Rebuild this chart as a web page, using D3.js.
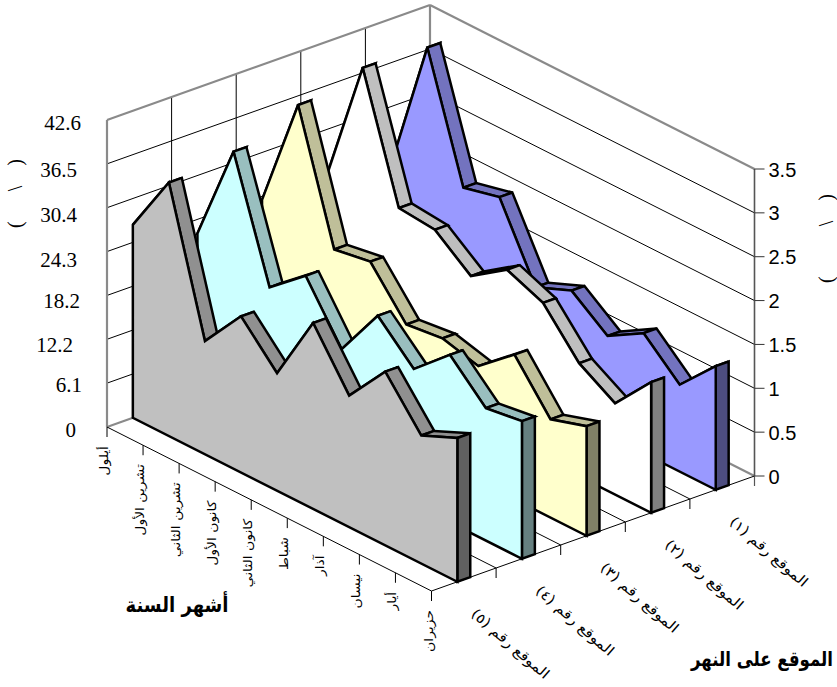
<!DOCTYPE html>
<html lang="ar">
<head>
<meta charset="utf-8">
<title>الموقع على النهر</title>
<script src="https://cdn.jsdelivr.net/npm/d3@7/dist/d3.min.js"></script>
<style>
  html, body { margin: 0; padding: 0; background: #fff; }
  svg { display: block; }
</style>
</head>
<body>
<svg id="chart" width="837" height="687"></svg>
<script>
// Monthly readings at five river sites, drawn as a 3-D area chart.
const months = ["أيلول", "تشرين الأول", "تشرين الثاني", "كانون الأول", "كانون الثاني", "شباط", "آذار", "نيسان", "أيار", "حزيران"];
const siteNames = ["الموقع رقم (١)", "الموقع رقم (٢)", "الموقع رقم (٣)", "الموقع رقم (٤)", "الموقع رقم (٥)"];

const site1 = [1.84, 3.38, 1.99, 2.09, 1.27, 1.44, 1.13, 1.37, 0.99, 1.41];
const site2 = [1.97, 3.41, 2.02, 1.98, 1.66, 1.94, 1.77, 1.29, 1.04, 1.49];
const site3 = [1.96, 3.25, 1.81, 1.88, 1.37, 1.42, 1.31, 1.65, 1.12, 1.25];
const site4 = [1.84, 2.98, 1.64, 1.98, 1.35, 1.94, 1.54, 1.91, 1.51, 1.57];
const site5 = [2.20, 2.89, 1.29, 1.78, 1.34, 2.12, 1.50, 1.98, 1.46, 1.64];

const rightTicks = [0, 0.5, 1, 1.5, 2, 2.5, 3, 3.5];
const leftTicks = [0, 6.1, 12.2, 18.2, 24.3, 30.4, 36.5, 42.6];

const siteSeries = [site1, site2, site3, site4, site5];
const siteFills = ["#9999FF", "#FFFFFF", "#FFFFCC", "#CCFFFF", "#C0C0C0"];

// Oblique projection: unit month, depth and height vectors in screen pixels.
const origin = [107, 427];
const monthVec = [324.5, 164];
const depthVec = [323, -115];
const heightPx = 307;

const monthPos = d3.scalePoint().domain(d3.range(months.length)).range([0, 1]);
const depthPos = d3.scaleLinear().domain([0, siteSeries.length]).range([0, 1]);
const valuePos = d3.scaleLinear().domain([0, 3.5]).range([0, 1]);
const leftPos = d3.scaleLinear().domain([0, 42.6]).range([0, 1]);

function project(u, w, h) {
  return [
    origin[0] + monthVec[0] * u + depthVec[0] * w,
    origin[1] + monthVec[1] * u + depthVec[1] * w - heightPx * h
  ];
}

const svg = d3.select("#chart");
const line = d3.line();
const closed = pts => line(pts) + "Z";

function seg(parent, a, b, cls) {
  parent.append("line")
    .attr("x1", a[0]).attr("y1", a[1]).attr("x2", b[0]).attr("y2", b[1])
    .attr("stroke", cls.stroke).attr("stroke-width", cls.width);
}

const thinGrid = { stroke: "#000", width: 1 };
const wallEdge = { stroke: "#8a8a8a", width: 2.2 };

// Back walls and floor.
const walls = svg.append("g");
rightTicks.slice(1, -1).forEach(v => {
  const h = valuePos(v);
  seg(walls, project(0, 0, h), project(0, 1, h), thinGrid);
  seg(walls, project(0, 1, h), project(1, 1, h), thinGrid);
});
d3.range(1, siteSeries.length).forEach(i => {
  const w = 1 - depthPos(i);
  seg(walls, project(0, w, 0), project(0, w, 1), thinGrid);
});
d3.range(1, siteSeries.length).forEach(i => {
  const w = depthPos(i);
  seg(walls, project(0, w, 0), project(1, w, 0), thinGrid);
});
seg(walls, project(0, 0, 0), project(0, 0, 1), wallEdge);
seg(walls, project(0, 0, 1), project(0, 1, 1), wallEdge);
seg(walls, project(0, 1, 1), project(1, 1, 1), wallEdge);
seg(walls, project(0, 1, 0), project(0, 1, 1), wallEdge);
seg(walls, project(0, 0, 0), project(0, 1, 0), wallEdge);
seg(walls, project(0, 1, 0), project(1, 1, 0), wallEdge);

// Floor outline and axis ticks.
const axes = svg.append("g");
seg(axes, project(0, 0, 0), project(1, 0, 0), thinGrid);
seg(axes, project(1, 0, 0), project(1, 1, 0), thinGrid);
const tickLen = 10;
months.forEach((_, i) => {
  const p = project(monthPos(i), 0, 0);
  seg(axes, p, [p[0], p[1] + tickLen], thinGrid);
});
d3.range(siteSeries.length + 1).forEach(i => {
  const p = project(1, depthPos(i), 0);
  seg(axes, p, [p[0], p[1] + tickLen], thinGrid);
});

// Extruded areas, furthest site first.
const bandFront = 0.4, bandBack = 0.6;
const marks = svg.append("g")
  .attr("stroke", "#000").attr("stroke-width", 2.5)
  .attr("stroke-linejoin", "miter").attr("stroke-miterlimit", 3);

siteSeries.forEach((values, s) => {
  const rowFromFront = siteSeries.length - 1 - s;
  const wF = depthPos(rowFromFront + bandFront);
  const wB = depthPos(rowFromFront + bandBack);
  const fill = d3.color(siteFills[s]);
  const dim = k => d3.rgb(fill.r * k, fill.g * k, fill.b * k).formatHex();
  const front = values.map((v, m) => project(monthPos(m), wF, valuePos(v)));
  const back = values.map((v, m) => project(monthPos(m), wB, valuePos(v)));
  const g = marks.append("g");

  // Top faces of each month-to-month step.
  d3.pairs(d3.range(values.length)).forEach(([a, b]) => {
    g.append("path").attr("d", closed([front[a], front[b], back[b], back[a]])).attr("fill", dim(0.75));
  });

  // Right-hand end cap.
  const last = values.length - 1;
  g.append("path")
    .attr("d", closed([front[last], back[last], project(1, wB, 0), project(1, wF, 0)]))
    .attr("fill", dim(0.5));

  // Front face.
  g.append("path")
    .attr("d", closed([project(0, wF, 0), ...front, project(1, wF, 0)]))
    .attr("fill", siteFills[s]);
});

// Right-hand value axis, drawn over the marks.
const rightAxis = svg.append("g");
const cornerBase = project(1, 1, 0), cornerTop = project(1, 1, 1);
seg(rightAxis, [cornerBase[0], cornerBase[1]], [cornerTop[0], cornerTop[1]], { stroke: "#555", width: 1.6 });
seg(rightAxis, cornerBase, [cornerBase[0], cornerBase[1] + tickLen], { stroke: "#555", width: 1.2 });
rightTicks.forEach(v => {
  const p = project(1, 1, valuePos(v));
  seg(rightAxis, p, [p[0] + tickLen, p[1]], { stroke: "#333", width: 1 });
  rightAxis.append("text")
    .attr("x", p[0] + 14).attr("y", p[1] + 7.5)
    .attr("font-family", "Liberation Sans, Arial, sans-serif").attr("font-size", 20)
    .attr("fill", "#000").text(v);
});

// Left-hand value labels sit slightly off the gridlines, each with its own nudge.
const leftNudge = [[76, 3], [82, 2], [73, 6], [80, 5], [77, 8], [77, 7], [77, 6], [81, 3]];
const leftLabels = svg.append("g")
  .attr("font-family", "Liberation Serif, Times New Roman, serif").attr("font-size", 21).attr("fill", "#000")
  .attr("text-anchor", "end");
leftTicks.forEach((v, i) => {
  const p = project(0, 0, leftPos(v));
  leftLabels.append("text")
    .attr("x", leftNudge[i][0])
    .attr("y", p[1] + leftNudge[i][1] + 7)
    .text(v);
});

// Month labels read downward from each tick.
const arabicFont = "DejaVu Sans, Noto Sans, sans-serif";
const monthLabels = svg.append("g")
  .attr("font-family", arabicFont).attr("font-size", 12).attr("fill", "#000");
months.forEach((name, i) => {
  const p = project(monthPos(i), 0, 0);
  monthLabels.append("text")
    .attr("transform", `translate(${p[0] + 1},${p[1] + 19}) rotate(-90) scale(1.16,1)`)
    .attr("direction", "rtl").attr("text-anchor", "start")
    .text(name);
});

// Site labels run diagonally below the depth axis, site 5 nearest the viewer.
const siteLabels = svg.append("g")
  .attr("font-family", arabicFont).attr("font-size", 14).attr("fill", "#000");
siteNames.slice().reverse().forEach((name, i) => {
  const p = project(1, depthPos(i + 0.5), 0);
  siteLabels.append("text")
    .attr("transform", `translate(${p[0] + 46},${p[1] + 65}) rotate(41) scale(1.12,1)`)
    .attr("text-anchor", "middle").attr("dominant-baseline", "middle")
    .text(name);
});

// Axis titles, condensed to suit their width.
svg.append("text")
  .attr("transform", "translate(177,612) scale(0.86,1)")
  .attr("font-family", arabicFont).attr("font-size", 21).attr("font-weight", "bold")
  .attr("text-anchor", "middle").text("أشهر السنة");
svg.append("text")
  .attr("transform", "translate(762,666) scale(0.83,1)")
  .attr("font-family", arabicFont).attr("font-size", 20).attr("font-weight", "bold")
  .attr("text-anchor", "middle").text("الموقع على النهر");

// Rotated unit brackets beside both value axes.
svg.append("text")
  .attr("transform", "translate(22,228) rotate(-90)")
  .attr("font-family", "Liberation Serif, serif").attr("font-size", 20)
  .style("white-space", "pre")
  .text("(      \\    )");
svg.append("text")
  .attr("transform", "translate(833,283) rotate(-90)")
  .attr("font-family", "Liberation Serif, serif").attr("font-size", 20)
  .style("white-space", "pre")
  .text("(          \\    )");
</script>
</body>
</html>
